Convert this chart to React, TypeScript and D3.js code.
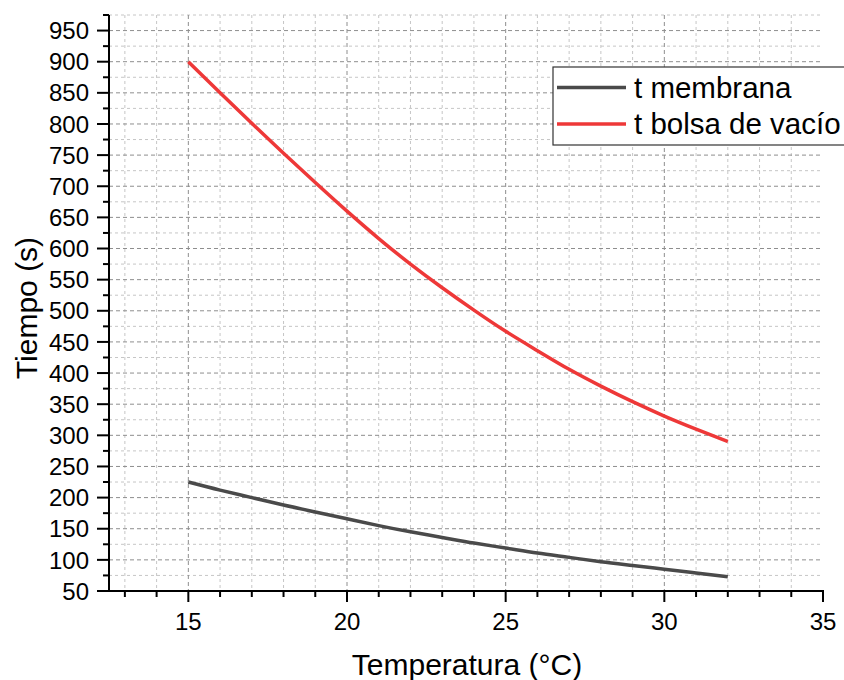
import React from "react";
import * as d3 from "d3";

const temps = [15, 16, 17, 18, 19, 20, 21, 22, 23, 24, 25, 26, 27, 28, 29, 30, 31, 32];
const tMembrana = [225, 212, 200, 188, 177, 166, 155, 145, 136, 127, 119, 111, 104, 97, 91, 85, 79, 73];
const tBolsa = [900, 850, 801, 753, 706, 660, 616, 575, 537, 501, 467, 436, 406, 379, 354, 331, 310, 290];
const xMajorTicks = [15, 20, 25, 30, 35];
const yMajorTicks = [50, 100, 150, 200, 250, 300, 350, 400, 450, 500, 550, 600, 650, 700, 750, 800, 850, 900, 950];
const seriesNames = ["t membrana", "t bolsa de vacío"];
const seriesColors = ["#4a4a4a", "#ee3838"];

const FONT = "'Liberation Sans', Arial, sans-serif";

export default function App() {
  const x = d3.scaleLinear().domain([12.5, 35]).range([109, 823]);
  const y = d3.scaleLinear().domain([50, 975]).range([591, 15]);

  const xMinor = d3.range(13, 35, 1).filter((v) => !xMajorTicks.includes(v));
  const yMinor = d3.range(75, 976, 50);
  const xGridMajor = xMajorTicks.filter((v) => v < 35);
  const yGridMajor = yMajorTicks.filter((v) => v > 50);

  const line = d3
    .line<number>()
    .x((_, i) => x(temps[i]))
    .y((d) => y(d))
    .curve(d3.curveNatural);

  const series = [tMembrana, tBolsa];

  return (
    <svg
      width={844}
      height={680}
      style={{ position: "absolute", left: 0, top: 0, background: "#fff" }}
      fontFamily={FONT}
    >
      <rect x={0} y={0} width={844} height={680} fill="#fff" />
      {/* minor grid */}
      <g stroke="#c6c6c6" strokeWidth={1} strokeDasharray="3,3">
        {xMinor.map((v) => (
          <line key={"xm" + v} x1={x(v)} x2={x(v)} y1={y(975)} y2={y(50)} />
        ))}
        {yMinor.map((v) => (
          <line key={"ym" + v} x1={x(12.5)} x2={x(35)} y1={y(v)} y2={y(v)} />
        ))}
      </g>
      {/* major grid */}
      <g stroke="#8e8e8e" strokeWidth={1} strokeDasharray="4,3">
        {xGridMajor.map((v) => (
          <line key={"xM" + v} x1={x(v)} x2={x(v)} y1={y(975)} y2={y(50)} />
        ))}
        {yGridMajor.map((v) => (
          <line key={"yM" + v} x1={x(12.5)} x2={x(35)} y1={y(v)} y2={y(v)} />
        ))}
      </g>

      {/* series */}
      {series.map((s, i) => (
        <path
          key={"s" + i}
          d={line(s) || ""}
          fill="none"
          stroke={seriesColors[i]}
          strokeWidth={3.5}
          strokeLinejoin="round"
        />
      ))}

      {/* axes */}
      <g stroke="#000" strokeWidth={2}>
        <line x1={x(12.5)} x2={x(12.5)} y1={y(975)} y2={y(50) + 1} />
        <line x1={x(12.5) - 1} x2={x(35) + 1} y1={y(50)} y2={y(50)} />
        {yMajorTicks.map((v) => (
          <line key={"ytM" + v} x1={x(12.5) - 12} x2={x(12.5)} y1={y(v)} y2={y(v)} />
        ))}
        {yMinor.map((v) => (
          <line key={"ytm" + v} x1={x(12.5) - 6} x2={x(12.5)} y1={y(v)} y2={y(v)} />
        ))}
        {xMajorTicks.map((v) => (
          <line key={"xtM" + v} x1={x(v)} x2={x(v)} y1={y(50)} y2={y(50) + 11} />
        ))}
        {xMinor.map((v) => (
          <line key={"xtm" + v} x1={x(v)} x2={x(v)} y1={y(50)} y2={y(50) + 6} />
        ))}
      </g>

      {/* tick labels */}
      <g fontSize={24} fill="#000">
        {yMajorTicks.map((v) => (
          <text key={"yl" + v} x={89} y={y(v)} textAnchor="end" dy="0.36em">
            {v}
          </text>
        ))}
        {xMajorTicks.map((v) => (
          <text key={"xl" + v} x={x(v)} y={629.5} textAnchor="middle">
            {v}
          </text>
        ))}
      </g>

      {/* axis titles */}
      <text x={467} y={675} fontSize={30} textAnchor="middle" fill="#000">
        Temperatura (°C)
      </text>
      <text
        transform={`translate(37,308) rotate(-90)`}
        fontSize={30}
        textAnchor="middle"
        fill="#000"
      >
        Tiempo (s)
      </text>

      {/* legend */}
      <g>
        <rect x={553} y={67} width={300} height={78} fill="#fff" stroke="#333" strokeWidth={1.2} />
        {seriesNames.map((n, i) => (
          <g key={"lg" + i}>
            <line
              x1={557}
              x2={626}
              y1={87.5 + i * 36.5}
              y2={87.5 + i * 36.5}
              stroke={seriesColors[i]}
              strokeWidth={3.5}
            />
            <text x={634} y={97.5 + i * 36} fontSize={29.5} fill="#000">
              {n}
            </text>
          </g>
        ))}
      </g>
    </svg>
  );
}
